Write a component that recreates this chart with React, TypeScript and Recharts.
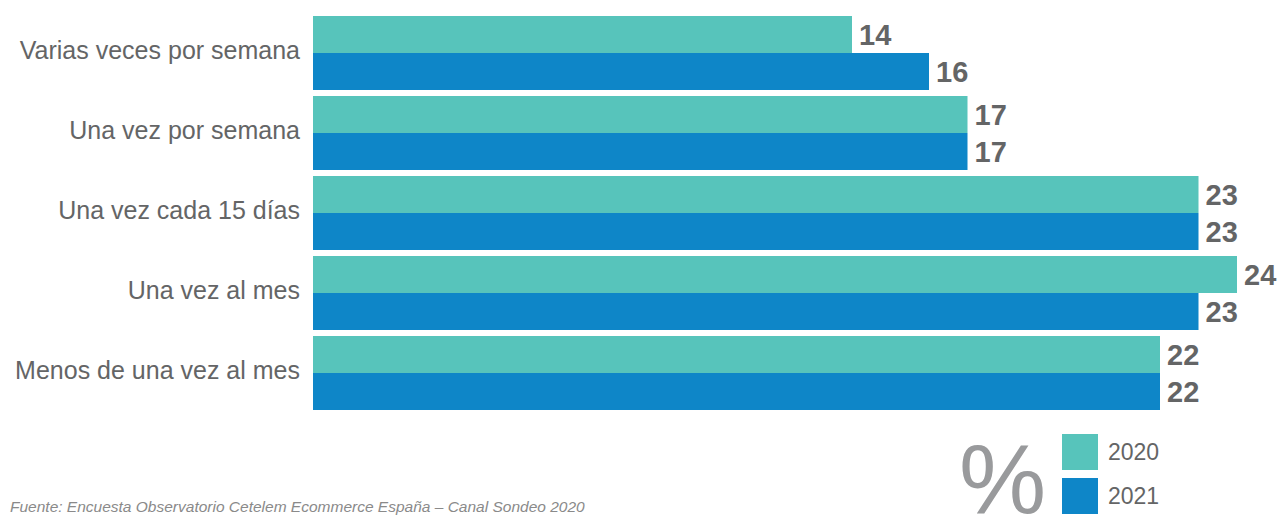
import { BarChart, Bar, XAxis, YAxis, LabelList } from 'recharts';

const categories = [
  'Varias veces por semana',
  'Una vez por semana',
  'Una vez cada 15 días',
  'Una vez al mes',
  'Menos de una vez al mes',
];
const values2020 = [14, 17, 23, 24, 22];
const values2021 = [16, 17, 23, 23, 22];
const seriesNames = ['2020', '2021'];

const COLORS = ['#57c4bb', '#0e86c8'];
const TEXT = '#646566';
const FONT = '"Liberation Sans", Arial, Helvetica, sans-serif';

const data = categories.map((name, i) => ({
  name,
  y2020: values2020[i],
  y2021: values2021[i],
}));

function CategoryTick({ x, y, payload }: any) {
  return (
    <text x={x} y={y + 6.5} textAnchor="end" fill={TEXT} fontSize={25} fontFamily={FONT}>
      {payload.value}
    </text>
  );
}

export default function App() {
  return (
    <div style={{ position: 'absolute', left: 0, top: 0, width: 1281, height: 516, background: '#fff', overflow: 'hidden', fontFamily: FONT }}>
      <BarChart
        width={1281}
        height={516}
        data={data}
        layout="vertical"
        margin={{ top: 12.5, right: 44, bottom: 103.5, left: 0 }}
        barCategoryGap={3.5}
        barGap={0}
      >
        <XAxis type="number" domain={[0, 24]} hide />
        <YAxis
          type="category"
          dataKey="name"
          width={313}
          axisLine={false}
          tickLine={false}
          tickSize={0}
          tickMargin={13}
          tick={<CategoryTick />}
        />
        <Bar dataKey="y2020" name={seriesNames[0]} fill={COLORS[0]} isAnimationActive={false}>
          <LabelList dataKey="y2020" position="right" offset={7} fill={TEXT} fontSize={29} fontWeight="bold" fontFamily={FONT} />
        </Bar>
        <Bar dataKey="y2021" name={seriesNames[1]} fill={COLORS[1]} isAnimationActive={false}>
          <LabelList dataKey="y2021" position="right" offset={7} fill={TEXT} fontSize={29} fontWeight="bold" fontFamily={FONT} />
        </Bar>
      </BarChart>

      {/* legend */}
      <div style={{ position: 'absolute', left: 1062, top: 434, display: 'flex', flexDirection: 'column', gap: 8 }}>
        {seriesNames.map((s, i) => (
          <div key={s} style={{ display: 'flex', alignItems: 'center', height: 36 }}>
            <span style={{ width: 36, height: 36, background: COLORS[i], display: 'inline-block' }} />
            <span style={{ marginLeft: 10, fontSize: 23, color: TEXT }}>{s}</span>
          </div>
        ))}
      </div>

      <div style={{ position: 'absolute', left: 959, top: 424, fontSize: 98, lineHeight: '110px', color: '#999a9c', fontWeight: 300 }}>%</div>
      <div style={{ position: 'absolute', left: 10, top: 498, fontSize: 15.5, fontStyle: 'italic', color: '#8a8a8a', whiteSpace: 'nowrap' }}>
        Fuente: Encuesta Observatorio Cetelem Ecommerce España – Canal Sondeo 2020
      </div>
    </div>
  );
}
